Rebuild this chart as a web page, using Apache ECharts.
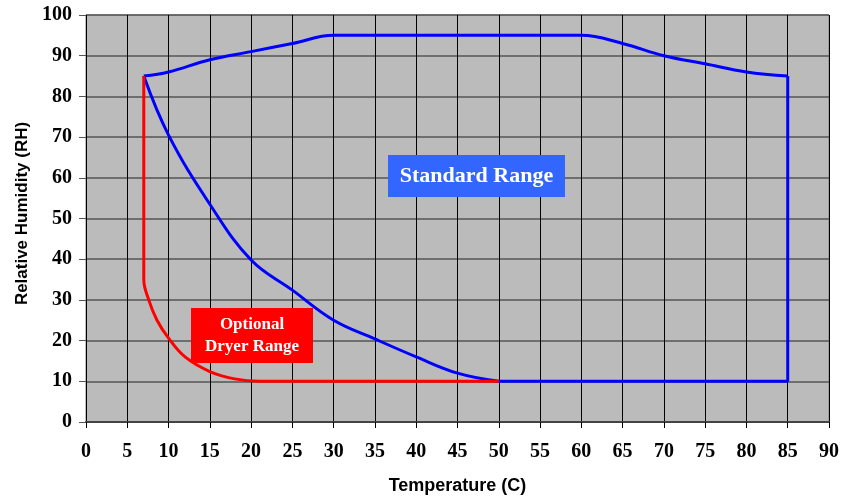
<!DOCTYPE html>
<html><head><meta charset="utf-8">
<script src="https://cdn.jsdelivr.net/npm/echarts@6/dist/echarts.min.js"></script>
<style>html,body{margin:0;padding:0;background:#fff}#c{width:854px;height:496px}</style>
</head><body><div id="c"></div>
<script>
// Standard range boundary (blue)
const stdTop = [[7,85],[10,86],[15,89],[20,91],[25,93],[30,95],[35,95],[40,95],[45,95],[50,95],[55,95],[60,95],[65,93],[70,90],[75,88],[80,86],[85,85]];
const stdRightBottom = [[85,85],[85,10],[80,10],[70,10],[60,10],[55,10],[50,10]];
const stdLower = [[50,10],[45,12],[40,16],[35,20.4],[30,25],[25,32.4],[20,39.8],[15,53.5],[10,70.5],[7,85]];
// Optional dryer range boundary (red)
const dryer = [[7,85],[7,35],[7.6,30],[8.6,25],[10,20.6],[12,16],[15,12.4],[18,10.6],[21,10],[30,10],[40,10],[50,10]];
const xTicks = {min:0, max:90, interval:5};
const yTicks = {min:0, max:100, interval:10};
const labels = {std:'Standard Range', dryer:'Optional\nDryer Range', x:'Temperature (C)', y:'Relative Humidity (RH)'};

const chart = echarts.init(document.getElementById('c'));
const lineSeries = (data, color, smooth) => ({type:'line', data, showSymbol:false, smooth, lineStyle:{color, width:3}, z:3, animation:false});
chart.setOption({
  animation:false,
  grid:{left:86,right:25,top:15,bottom:74,containLabel:false,outerBoundsMode:'none',show:true,backgroundColor:'#BBBBBB',borderColor:'#808080',borderWidth:1},
  xAxis:{type:'value',min:xTicks.min,max:xTicks.max,interval:xTicks.interval,
    name:labels.x,nameLocation:'middle',nameGap:55,
    nameTextStyle:{fontFamily:'Liberation Sans',fontWeight:'bold',fontSize:18,color:'#000'},
    axisLine:{show:true,lineStyle:{color:'#444',width:2}},axisTick:{show:true,length:6,lineStyle:{color:'#000'}},
    axisLabel:{fontFamily:'Liberation Serif',fontWeight:'bold',fontSize:20,color:'#000',margin:20},
    splitLine:{show:true,lineStyle:{color:'#000',width:1}}},
  yAxis:{type:'value',min:yTicks.min,max:yTicks.max,interval:yTicks.interval,
    name:labels.y,nameLocation:'middle',nameGap:54,
    nameTextStyle:{fontFamily:'Liberation Sans',fontWeight:'bold',fontSize:17,color:'#000',padding:[0,0,0,10]},
    axisLine:{show:false},axisTick:{show:true,length:7,lineStyle:{color:'#555'}},
    axisLabel:{fontFamily:'Liberation Serif',fontWeight:'bold',fontSize:20,color:'#000',margin:14},
    splitLine:{show:true,lineStyle:{color:'#555',width:1.5}}},
  series:[
    lineSeries(stdTop,'#0000FF',0.4),
    lineSeries(stdRightBottom,'#0000FF',false),
    lineSeries(stdLower,'#0000FF',0.4),
    lineSeries(dryer,'#FF0000',0.4)
  ],
  graphic:[
    {type:'rect',shape:{x:388,y:155,width:177,height:42},style:{fill:'#3366FF'},z:10},
    {type:'text',x:476.5,y:176,z:11,style:{text:labels.std,fill:'#fff',font:'bold 22px "Liberation Serif"',align:'center',verticalAlign:'middle'}},
    {type:'rect',shape:{x:191,y:308,width:122,height:55},style:{fill:'#FF0000'},z:10},
    {type:'text',x:252,y:335.5,z:11,style:{text:labels.dryer,fill:'#fff',font:'bold 17px "Liberation Serif"',align:'center',verticalAlign:'middle',lineHeight:22}}
  ]
});
</script></body></html>
